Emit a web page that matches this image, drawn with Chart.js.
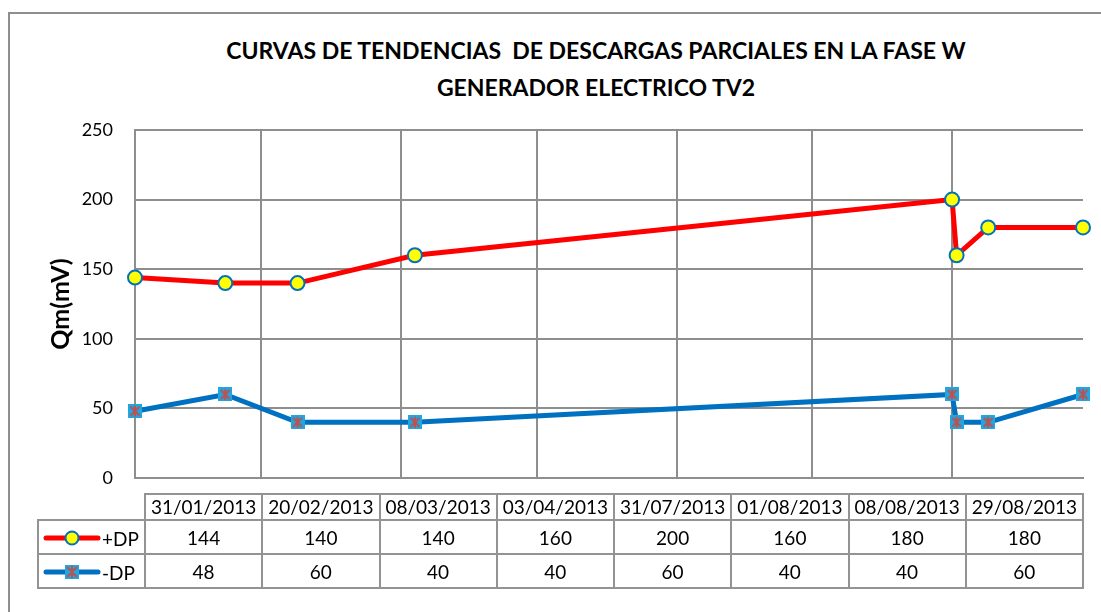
<!DOCTYPE html>
<html>
<head>
<meta charset="utf-8">
<script src="https://cdn.jsdelivr.net/npm/chart.js@4.4.1/dist/chart.umd.min.js"></script>
<style>
  html, body { margin: 0; padding: 0; background: #fff; }
  #wrap { position: relative; width: 1101px; height: 612px; overflow: hidden; font-family: Lato, "Open Sans", sans-serif; }
  #frame { position: absolute; left: 8px; top: 12px; width: 1200px; height: 700px; border-left: 2px solid #8e8e8e; border-top: 2px solid #8e8e8e; }
  #title { position: absolute; left: 0; width: 1192px; top: 32px; text-align: center; font: bold 23px Lato, sans-serif; line-height: 37px; color: #000; }
  #chart { position: absolute; left: 0; top: 0; }
  #tabla { position: absolute; left: 37px; top: 493px; border-collapse: collapse; table-layout: fixed; width: 1047px; font-size: 19px; color: #000; }
  #tabla td { border: 2px solid #939393; text-align: center; padding: 0; white-space: nowrap; }
  #tabla td.vacio { border-top: none; border-left: none; }
  #tabla tr.cab td { height: 24px; line-height: 22px; }
  #tabla tr.fila td { height: 32px; }
  #tabla td.leg { text-align: left; padding-left: 4px; }
  #tabla td.leg canvas { vertical-align: middle; }
  #tabla td.leg span { vertical-align: middle; margin-left: 1px; }
</style>
</head>
<body>
<div id="wrap">
  <div id="frame"></div>
  <div id="title">CURVAS DE TENDENCIAS&nbsp; DE DESCARGAS PARCIALES EN LA FASE W<br>GENERADOR ELECTRICO TV2</div>
  <canvas id="chart" width="1101" height="612"></canvas>
  <table id="tabla"></table>
</div>
<script>
// Datos
const fechas = ['31/01/2013', '20/02/2013', '08/03/2013', '03/04/2013', '31/07/2013', '01/08/2013', '08/08/2013', '29/08/2013'];
const dpPos = [144, 140, 140, 160, 200, 160, 180, 180];
const dpNeg = [48, 60, 40, 40, 60, 40, 40, 60];
const series = ['+DP', '-DP'];
// líneas verticales de la rejilla (fin de mes)
const rejillaFechas = ['31/01/2013', '28/02/2013', '31/03/2013', '30/04/2013', '31/05/2013', '30/06/2013', '31/07/2013'];
const yMin = 0, yMax = 250, yPaso = 50;

const ROJO = '#FF0000', AZUL = '#0070C0', AMARILLO = '#FFFF00', CIAN = '#1FA7E1', ESTRELLA = '#C0504D', GRIS = '#8e8e8e';

function dia(f) {
  const [d, m, a] = f.split('/').map(Number);
  return Date.UTC(a, m - 1, d) / 864e5;
}

function dibujaCuadro(g, cx, cy, s) {
  g.fillStyle = CIAN;
  g.fillRect(cx - s / 2, cy - s / 2, s, s);
  g.strokeStyle = ESTRELLA;
  g.lineWidth = 2;
  const m = s / 2 - 2.5;
  g.beginPath();
  g.moveTo(cx - m, cy - m); g.lineTo(cx + m, cy + m);
  g.moveTo(cx + m, cy - m); g.lineTo(cx - m, cy + m);
  g.moveTo(cx, cy - m - 1); g.lineTo(cx, cy + m + 1);
  g.stroke();
}

function marcaCuadro(s) {
  const c = document.createElement('canvas');
  c.width = s; c.height = s;
  dibujaCuadro(c.getContext('2d'), s / 2, s / 2, s);
  return c;
}

function dibujaCirculo(g, cx, cy, r) {
  g.beginPath();
  g.arc(cx, cy, r, 0, Math.PI * 2);
  g.fillStyle = AMARILLO; g.fill();
  g.lineWidth = 2; g.strokeStyle = AZUL; g.stroke();
}

// Tabla de datos
const tabla = document.getElementById('tabla');
let html = '<colgroup><col style="width:107px">' + fechas.map(() => '<col>').join('') + '</colgroup>';
html += '<tr class="cab"><td class="vacio"></td>' + fechas.map(f => `<td>${f}</td>`).join('') + '</tr>';
html += `<tr class="fila"><td class="leg"><canvas id="legPos" width="58" height="18"></canvas><span>${series[0]}</span></td>` + dpPos.map(v => `<td>${v}</td>`).join('') + '</tr>';
html += `<tr class="fila"><td class="leg"><canvas id="legNeg" width="58" height="18"></canvas><span>${series[1]}</span></td>` + dpNeg.map(v => `<td>${v}</td>`).join('') + '</tr>';
tabla.innerHTML = html;

(function () {
  let g = document.getElementById('legPos').getContext('2d');
  g.strokeStyle = ROJO; g.lineWidth = 5; g.lineCap = 'round';
  g.beginPath(); g.moveTo(3, 9); g.lineTo(55, 9); g.stroke();
  dibujaCirculo(g, 29, 9, 6.5);
  g = document.getElementById('legNeg').getContext('2d');
  g.strokeStyle = AZUL; g.lineWidth = 5; g.lineCap = 'round';
  g.beginPath(); g.moveTo(3, 9); g.lineTo(55, 9); g.stroke();
  dibujaCuadro(g, 29, 9, 14);
})();

new Chart(document.getElementById('chart'), {
  type: 'line',
  data: {
    datasets: [
      {
        label: series[0],
        data: fechas.map((f, i) => ({ x: dia(f), y: dpPos[i] })),
        borderColor: ROJO, borderWidth: 5, tension: 0, clip: false,
        pointRadius: 7, pointBackgroundColor: AMARILLO, pointBorderColor: AZUL, pointBorderWidth: 2
      },
      {
        label: series[1],
        data: fechas.map((f, i) => ({ x: dia(f), y: dpNeg[i] })),
        borderColor: AZUL, borderWidth: 5, tension: 0, clip: false,
        pointStyle: marcaCuadro(14), pointRadius: 7
      }
    ]
  },
  options: {
    responsive: false,
    animation: false,
    layout: { padding: { left: 0, right: 18, top: 130, bottom: 134 } },
    plugins: { legend: { display: false }, tooltip: { enabled: false }, title: { display: false } },
    scales: {
      x: {
        type: 'linear',
        min: dia(fechas[0]),
        max: dia(fechas[fechas.length - 1]),
        afterBuildTicks: s => { s.ticks = rejillaFechas.map(f => ({ value: dia(f) })); },
        afterFit: s => { s.height = 0; },
        ticks: { display: false },
        grid: { color: GRIS, lineWidth: 2, drawTicks: false },
        border: { display: true, color: GRIS, width: 2 }
      },
      y: {
        min: yMin, max: yMax,
        afterFit: s => { s.width = 135; },
        ticks: { stepSize: yPaso, padding: 22, color: '#000', font: { family: 'Lato', size: 18 } },
        grid: { color: GRIS, lineWidth: 2, drawTicks: false },
        border: { display: true, color: GRIS, width: 2 },
        title: { display: true, text: 'Qm(mV)', color: '#000', font: { family: 'Lato', size: 25, weight: 'bold' }, padding: { top: 46 } }
      }
    }
  }
});
</script>
</body>
</html>
